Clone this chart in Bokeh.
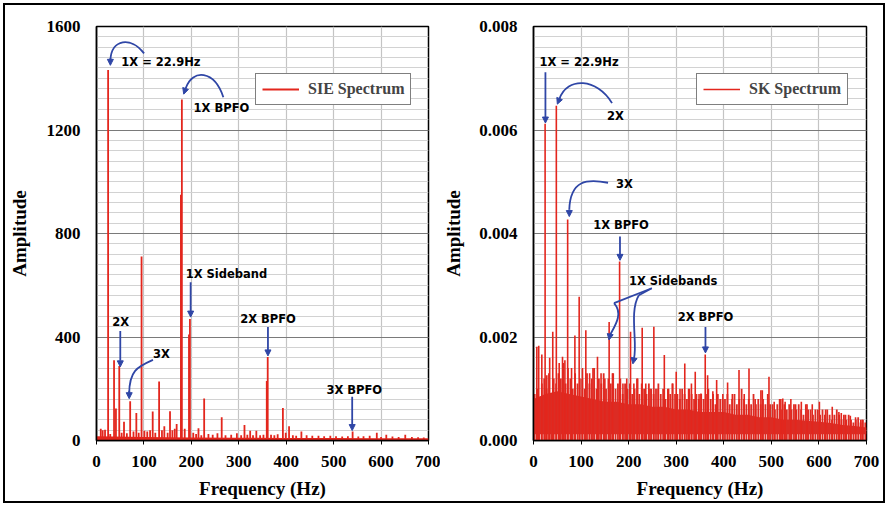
import numpy as np
from bokeh.plotting import figure
from bokeh.layouts import row
from bokeh.models import (FixedTicker, PrintfTickFormatter, Legend, LegendItem,
                          Arrow, NormalHead, Range1d)
from bokeh.core.properties import value
from bokeh.embed import file_html
from bokeh.resources import INLINE

# ---------------- data ----------------
freq_ticks = [0, 100, 200, 300, 400, 500, 600, 700]
sie_ticks = [0, 400, 800, 1200, 1600]
sk_ticks = [0.0, 0.002, 0.004, 0.006, 0.008]

# SIE spectrum: distinct spectral lines (Hz, amplitude)
sie_freq = [9, 13, 18, 24.5, 29, 37, 41, 48, 53, 58, 64, 71, 78, 84, 89, 95, 101, 107,
            113, 118.5, 124, 132, 138, 143, 150, 155, 160, 165, 169, 178, 180, 186, 195,
            197, 204, 210, 215, 221, 227, 236, 245, 255, 264, 272, 284, 296, 305, 312,
            318, 324, 330, 337, 345, 352, 359, 361, 368, 375, 382, 393, 399, 406, 414,
            421, 432, 443, 455, 468, 480, 493, 505, 518, 530, 540, 552, 563, 576, 591,
            600, 611, 624, 637, 651, 665, 678, 690]
sie_amp = [45, 40, 42, 1432, 25, 310, 124, 288, 30, 72, 28, 152, 35, 106, 30, 711, 38, 35,
           40, 112, 30, 228, 40, 55, 30, 113, 40, 45, 64, 950, 1318, 45, 410,
           470, 30, 25, 47, 20, 162, 25, 22, 28, 90, 20, 22, 28, 20, 60,
           22, 38, 20, 38, 20, 22, 230, 323, 22, 20, 24, 126, 30, 55, 20,
           18, 35, 20, 18, 18, 16, 18, 16, 15, 16, 35, 15, 16, 18, 30,
           14, 22, 15, 14, 22, 14, 13, 12]
# SIE noise floor level
sie_floor_f = [0, 100, 200, 300, 400, 500, 600, 700]
sie_floor = [16, 14, 12, 11, 10, 10, 9, 9]

# SK spectrum (values in 1e-4 units): distinct spikes
sk_freq = [7, 11, 17.5, 24.4, 28, 34, 40.5, 48, 54, 61, 66, 71.8, 80, 87, 96, 103, 110,
           118, 125, 134.5, 142, 150, 159, 166, 181, 188, 196, 204, 211, 219, 228.5, 236,
           245, 253, 262, 275, 284, 292, 300, 308, 318, 326, 332, 340, 348, 352, 361,
           366, 377, 385, 398, 408, 418, 432, 443, 453, 466, 478, 481, 495, 506, 520,
           524, 529, 541, 551, 563, 575, 586, 601, 614, 628, 642, 647, 656, 666, 677,
           688, 691]
sk_amp_e4 = [18.1, 18.3, 16.6, 61.2, 12.6, 16, 21, 64.7, 15, 16.2, 15.5, 42.7, 14, 20.3,
             27.8, 14, 21.3, 13, 14, 16.2, 13, 12, 22.9, 13, 34.6, 11, 12, 21, 11, 12,
             21.8, 11, 10, 22, 10, 16.5, 10, 11, 13.3, 10, 14.9, 10, 11, 13.3, 9, 9.1,
             16.6, 12.6, 9.5, 11.7, 9, 11.2, 9, 13.6, 9, 13.9, 8, 9.7, 9.7, 12.3, 7.5,
             8, 8.1, 7.5, 8, 7, 7.5, 7, 7, 7.5, 6, 6.5, 5.5, 5.3, 5, 4.8, 4.5, 4, 4]
# SK "forest" of smaller lines, one per 5 Hz bin (1e-4 units)
sk_forest_e4 = [9, 10, 8, 11, 12, 10, 13, 9, 12, 11,
                13, 12, 15, 11, 14, 12, 10, 13, 11, 12,
                12, 10, 13, 11, 12, 14, 10, 12, 11, 13,
                10, 12, 11, 13, 10, 11, 12, 9, 11, 10,
                11, 9, 10, 12, 9, 11, 10, 9, 11, 10,
                9, 10, 11, 9, 10, 8, 10, 9, 11, 9,
                9, 8, 10, 9, 8, 10, 9, 8, 9, 8,
                9, 8, 9, 10, 8, 9, 7, 9, 8, 8,
                8, 9, 7, 8, 9, 7, 8, 10, 8, 7,
                8, 7, 9, 7, 8, 7, 8, 7, 9, 7,
                7, 6, 7, 8, 6, 7, 6, 7, 6, 7,
                6, 7, 6, 5, 7, 6, 6, 5, 6, 6,
                5, 6, 5, 6, 5, 4, 5, 6, 5, 4,
                5, 4, 5, 4, 3.5, 4, 4.5, 3.5, 4, 3.5]
# SK dense noise band, every 25 Hz (1e-4 units)
sk_band_top_e4 = [8, 9, 9.5, 9, 8.5, 8, 7.5, 7.5, 7, 7, 6.5, 6.5, 6, 6, 5.5, 5.5, 5.5,
                  5, 5, 4.5, 4.5, 4, 4, 3.8, 3.6, 3.4, 3, 2.8, 2.5]
sk_band_low_e4 = [1.2] * 29

RED = "#e3261d"
RED2 = "#dc2c24"
BLUE = "#2f46a6"
SERIF = "Liberation Serif"
SANS = "DejaVu Sans"


def make_fig(width, left, right, ymax, yticks, yminor, ylab_standoff):
    p = figure(width=width, height=496, output_backend="svg", toolbar_location=None,
               x_range=Range1d(0, 700), y_range=Range1d(0, ymax),
               min_border_left=left, min_border_right=right,
               min_border_top=21, min_border_bottom=59)
    p.xaxis.ticker = FixedTicker(ticks=freq_ticks)
    p.yaxis.ticker = FixedTicker(ticks=yticks, minor_ticks=yminor)
    p.xaxis.axis_label = "Frequency (Hz)"
    p.yaxis.axis_label = "Amplitude"
    for ax in (p.xaxis[0], p.yaxis[0]):
        ax.axis_label_text_font = SERIF
        ax.axis_label_text_font_style = "bold"
        ax.axis_label_text_font_size = "19px"
        ax.axis_label_text_color = "black"
        ax.major_label_text_font = SERIF
        ax.major_label_text_font_style = "bold"
        ax.major_label_text_font_size = "17px"
        ax.major_label_text_color = "black"
        ax.axis_line_color = "black"
        ax.axis_line_width = 1.5
        ax.major_tick_line_color = "black"
        ax.minor_tick_line_color = None
        ax.major_tick_in = 0
    p.xaxis.major_tick_out = 4
    p.xaxis.major_label_standoff = 11
    p.xaxis.axis_label_standoff = 8
    p.yaxis.major_tick_out = 0
    p.yaxis.major_label_standoff = 12
    p.yaxis.axis_label_standoff = ylab_standoff
    p.xgrid.grid_line_color = "#c4c4c4"
    p.xgrid.grid_line_width = 1.2
    p.ygrid.grid_line_color = "#7a7a7a"
    p.ygrid.grid_line_width = 1.2
    p.ygrid.minor_grid_line_color = "#d2d2d2"
    p.ygrid.minor_grid_line_width = 1
    p.outline_line_color = "black"
    p.outline_line_width = 1.5
    p.background_fill_color = "white"
    p.border_fill_color = "white"
    return p


def add_legend(p, r, label, loc):
    leg = Legend(items=[LegendItem(label=label, renderers=[r])], location=loc,
                 border_line_color="black", border_line_width=1.5, padding=6, margin=0,
                 glyph_width=37, glyph_height=16, label_height=18, label_standoff=9,
                 label_text_font=SERIF, label_text_font_style="bold",
                 label_text_font_size="16px", background_fill_alpha=1.0, spacing=0)
    p.add_layout(leg)


def add_text(p, pts, labels):
    p.text(x=[a for a, b in pts], y=[b for a, b in pts], text=labels,
           text_font=value(SANS), text_font_style="bold", text_font_size="11.5px",
           text_color="black", text_baseline="middle", text_align="left")


def add_arrow(p, a, b):
    p.add_layout(Arrow(end=NormalHead(size=6, fill_color=BLUE, line_color=BLUE),
                       x_start=a[0], y_start=a[1], x_end=b[0], y_end=b[1],
                       line_color=BLUE, line_width=1.8))


def add_curve(p, p0, c0, c1, p1, tail, tip):
    p.bezier(x0=[p0[0]], y0=[p0[1]], x1=[p1[0]], y1=[p1[1]],
             cx0=[c0[0]], cy0=[c0[1]], cx1=[c1[0]], cy1=[c1[1]],
             line_color=BLUE, line_width=1.8)
    add_arrow(p, tail, tip)


def add_line(p, a, b):
    p.line(x=[a[0], b[0]], y=[a[1], b[1]], line_color=BLUE, line_width=1.8)


# -------- left: SIE spectrum --------
def L(px, py):
    return ((px - 93) / 335 * 700, (442 - py) / 416 * 1600)


p1 = make_fig(435, 88, 12, 1600, sie_ticks, list(range(0, 1600, 40)), 14)
p1.varea(x=sie_floor_f, y1=[0] * len(sie_floor_f), y2=sie_floor, fill_color=RED)
r1 = p1.segment(x0=sie_freq, y0=[0] * len(sie_freq), x1=sie_freq, y1=sie_amp,
                line_color=RED, line_width=1.8)
add_legend(p1, r1, "SIE Spectrum", (159, 335))

add_text(p1, [L(118, 62), L(191, 108), L(183, 275), L(109, 323), L(150, 355),
              L(238, 320), L(325, 391)],
         ["1X = 22.9Hz", "1X BPFO", "1X Sideband", "2X", "3X", "2X BPFO", "3X BPFO"])
add_curve(p1, L(141, 53), L(128, 36), L(108, 38), L(107, 60), L(107, 58), L(107, 65))
add_curve(p1, L(221, 97), L(212, 70), L(190, 68), L(183, 88), L(183, 88), L(181, 94))
add_arrow(p1, L(188, 283), L(188, 318))
add_arrow(p1, L(117, 332), L(117, 368))
add_curve(p1, L(150, 361), L(134, 368), L(126, 372), L(126, 395), L(126, 392), L(126, 400))
add_arrow(p1, L(266, 328), L(266, 357))
add_arrow(p1, L(351, 398), L(351, 432))


# -------- right: SK spectrum --------
def R(px, py):
    return ((px - 531) / 335 * 700, (442 - py) / 416 * 0.008)


sk_band_f = list(np.arange(0, 701, 25))
sk_forest_f = list(np.arange(2.5, 700, 5))

p2 = make_fig(443, 91, 17, 0.008, sk_ticks, [i * 0.0002 for i in range(40)], 12)
p2.yaxis.formatter = PrintfTickFormatter(format="%.3f")
p2.segment(x0=sk_forest_f, y0=[0] * len(sk_forest_f), x1=sk_forest_f,
           y1=[v * 1e-4 for v in sk_forest_e4], line_color=RED2, line_width=1.8)
p2.varea(x=sk_band_f, y1=[v * 1e-4 for v in sk_band_low_e4],
         y2=[v * 1e-4 for v in sk_band_top_e4], fill_color=RED2)
r2 = p2.segment(x0=sk_freq, y0=[0] * len(sk_freq), x1=sk_freq,
                y1=[v * 1e-4 for v in sk_amp_e4], line_color=RED, line_width=1.6)
add_legend(p2, r2, "SK Spectrum", (163, 335))

add_text(p2, [R(537, 62), R(605, 116), R(614, 184), R(591, 225), R(627, 282), R(676, 318)],
         ["1X = 22.9Hz", "2X", "3X", "1X BPFO", "1X Sidebands", "2X BPFO"])
add_arrow(p2, R(543, 72), R(543, 123))
add_curve(p2, R(610, 103), R(595, 78), R(565, 76), R(557, 99), R(557, 99), R(555, 104))
add_curve(p2, R(606, 183), R(585, 179), R(568, 180), R(567, 210), R(567, 210), R(567, 217))
add_arrow(p2, R(618, 237), R(618, 261))
add_line(p2, R(650, 289), R(612, 304))
add_curve(p2, R(612, 304), R(622, 315), R(612, 328), R(608, 336), R(608, 336), R(607, 341))
add_line(p2, R(650, 289), R(637, 296))
add_curve(p2, R(637, 296), R(627, 312), R(636, 345), R(632, 360), R(632, 360), R(631, 365))
add_arrow(p2, R(704, 328), R(704, 354))

layout = row(p1, p2, margin=(3, 0, 0, 3), styles={"border": "2px solid black"})

open("out.html", "w").write(file_html(layout, INLINE))
